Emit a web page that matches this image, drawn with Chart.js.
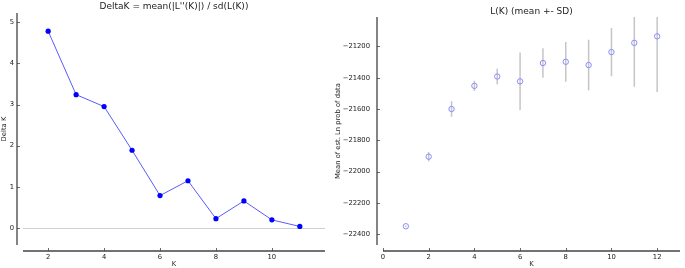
<!DOCTYPE html>
<html>
<head>
<meta charset="utf-8">
<script src="https://cdn.jsdelivr.net/npm/chart.js@4"></script>
<style>
  html, body { margin: 0; padding: 0; background: #fff; }
  #wrap { position: relative; width: 685px; height: 268px; overflow: hidden; }
  #deltaBox { position: absolute; left: 0; top: 0; width: 330px; height: 268px; }
  #lkBox { position: absolute; left: 330px; top: 0; width: 355px; height: 268px; }
</style>
</head>
<body>
<div id="wrap">
  <div id="deltaBox"><canvas id="deltaChart" width="330" height="268"></canvas></div>
  <div id="lkBox"><canvas id="lkChart" width="355" height="268"></canvas></div>
</div>
<script>
// DeltaK by K
const deltaK = [2, 3, 4, 5, 6, 7, 8, 9, 10, 11];
const deltaVals = [4.78, 3.24, 2.95, 1.89, 0.79, 1.15, 0.23, 0.66, 0.20, 0.04];

// L(K) mean and SD
const lkK = [1, 2, 3, 4, 5, 6, 7, 8, 9, 10, 11, 12];
const lkMean = [-22350, -21905, -21600, -21452, -21392, -21423, -21306, -21298, -21319, -21236, -21177, -21135];
const lkSD = [5, 30, 50, 33, 49, 184, 94, 127, 162, 154, 281, 356];

const FONT = 'DejaVu Sans';
Chart.defaults.font.family = FONT;
Chart.defaults.color = '#222';

// matplotlib-style offset spines with inward ticks
function spines(offset) {
  return {
    id: 'spines',
    afterDraw(chart) {
      const ctx = chart.ctx, a = chart.chartArea;
      const xs = chart.scales.x, ys = chart.scales.y;
      ctx.save();
      ctx.strokeStyle = '#444';
      ctx.lineWidth = 1.3;
      ctx.beginPath();
      ctx.moveTo(a.left - offset, a.top);
      ctx.lineTo(a.left - offset, a.bottom);
      ctx.moveTo(a.left, a.bottom + offset);
      ctx.lineTo(a.right, a.bottom + offset);
      ctx.stroke();
      ctx.lineWidth = 0.8;
      ctx.beginPath();
      ys.ticks.forEach(t => {
        const y = Math.round(ys.getPixelForValue(t.value)) + 0.5;
        ctx.moveTo(a.left - offset, y);
        ctx.lineTo(a.left - offset + 3, y);
      });
      xs.ticks.forEach(t => {
        const x = Math.round(xs.getPixelForValue(t.value)) + 0.5;
        ctx.moveTo(x, a.bottom + offset);
        ctx.lineTo(x, a.bottom + offset - 3);
      });
      ctx.stroke();
      ctx.restore();
    }
  };
}

const zeroLine = {
  id: 'zeroLine',
  beforeDatasetsDraw(chart) {
    const ctx = chart.ctx, a = chart.chartArea;
    const y = Math.round(chart.scales.y.getPixelForValue(0)) + 0.5;
    ctx.save();
    ctx.strokeStyle = '#d0d0d0';
    ctx.lineWidth = 1;
    ctx.beginPath();
    ctx.moveTo(a.left, y);
    ctx.lineTo(a.right, y);
    ctx.stroke();
    ctx.restore();
  }
};

const errorBars = {
  id: 'errorBars',
  beforeDatasetsDraw(chart) {
    const ctx = chart.ctx, a = chart.chartArea;
    const xs = chart.scales.x, ys = chart.scales.y;
    ctx.save();
    ctx.beginPath();
    ctx.rect(a.left, a.top, a.right - a.left, a.bottom - a.top);
    ctx.clip();
    ctx.strokeStyle = 'rgba(150,150,150,0.55)';
    ctx.lineWidth = 1.5;
    lkK.forEach((k, i) => {
      const x = xs.getPixelForValue(k);
      ctx.beginPath();
      ctx.moveTo(x, ys.getPixelForValue(lkMean[i] + lkSD[i]));
      ctx.lineTo(x, ys.getPixelForValue(lkMean[i] - lkSD[i]));
      ctx.stroke();
    });
    ctx.restore();
  }
};

function fixedScales(yWidth, xHeight) {
  return {
    yFit: s => { s.width = yWidth; },
    xFit: s => { s.height = xHeight; }
  };
}

const titleFont = { family: FONT, size: 9, weight: 'normal' };
const tickFont = { family: FONT, size: 6.8 };
const labelFont = { family: FONT, size: 6.8 };

// Left chart: DeltaK
const f1 = fixedScales(23, 23);
new Chart(document.getElementById('deltaChart'), {
  type: 'line',
  data: {
    datasets: [{
      data: deltaK.map((k, i) => ({ x: k, y: deltaVals[i] })),
      borderColor: '#5a5aff',
      borderWidth: 1,
      backgroundColor: '#0000ff',
      pointBackgroundColor: '#0000ff',
      pointBorderColor: '#0000ff',
      pointRadius: 2.6,
      pointBorderWidth: 0,
      tension: 0
    }]
  },
  options: {
    responsive: false,
    animation: false,
    layout: { padding: { left: 0, right: 5, top: 0, bottom: 0 } },
    plugins: {
      legend: { display: false },
      tooltip: { enabled: false },
      title: {
        display: true,
        fullSize: false,
        text: "DeltaK = mean(|L''(K)|) / sd(L(K))",
        font: titleFont,
        color: '#222',
        padding: { top: 1, bottom: 1 }
      }
    },
    scales: {
      x: {
        type: 'linear',
        min: 1.1,
        max: 11.9,
        afterFit: f1.xFit,
        grid: { display: false, drawTicks: false },
        border: { display: false },
        ticks: { stepSize: 2, includeBounds: false, font: tickFont, padding: 8, maxRotation: 0 },
        title: { display: true, text: 'K', font: labelFont, padding: { top: 0, bottom: 0 } }
      },
      y: {
        min: -0.41,
        max: 5.22,
        afterFit: f1.yFit,
        grid: { display: false, drawTicks: false },
        border: { display: false },
        ticks: { stepSize: 1, includeBounds: false, font: tickFont, padding: 9 },
        title: { display: true, text: 'Delta K', font: labelFont, padding: 0 }
      }
    }
  },
  plugins: [zeroLine, spines(6)]
});

// Right chart: L(K)
const f2 = fixedScales(49, 23);
new Chart(document.getElementById('lkChart'), {
  type: 'scatter',
  data: {
    datasets: [{
      data: lkK.map((k, i) => ({ x: k, y: lkMean[i] })),
      pointStyle: 'circle',
      pointRadius: 2.7,
      pointBorderWidth: 1,
      pointBorderColor: '#8a8aff',
      pointBackgroundColor: 'rgba(0,0,0,0)',
      showLine: false
    }]
  },
  options: {
    responsive: false,
    animation: false,
    layout: { padding: { left: 4, right: 1, top: 0, bottom: 0 } },
    plugins: {
      legend: { display: false },
      tooltip: { enabled: false },
      title: {
        display: true,
        fullSize: false,
        text: 'L(K) (mean +- SD)',
        font: titleFont,
        color: '#222',
        padding: { top: 1, bottom: 0 }
      }
    },
    scales: {
      x: {
        type: 'linear',
        min: 0,
        max: 13,
        afterFit: f2.xFit,
        grid: { display: false, drawTicks: false },
        border: { display: false },
        ticks: { stepSize: 2, includeBounds: false, font: tickFont, padding: 8, maxRotation: 0 },
        title: { display: true, text: 'K', font: labelFont, padding: { top: 0, bottom: 0 } }
      },
      y: {
        min: -22470,
        max: -21012,
        afterFit: f2.yFit,
        grid: { display: false, drawTicks: false },
        border: { display: false },
        ticks: {
          stepSize: 200,
          includeBounds: false,
          font: tickFont,
          padding: 13,
          callback: v => '\u2212' + Math.abs(v)
        },
        title: { display: true, text: 'Mean of est. Ln prob of data', font: labelFont, padding: 0 }
      }
    }
  },
  plugins: [errorBars, spines(6)]
});
</script>
</body>
</html>
